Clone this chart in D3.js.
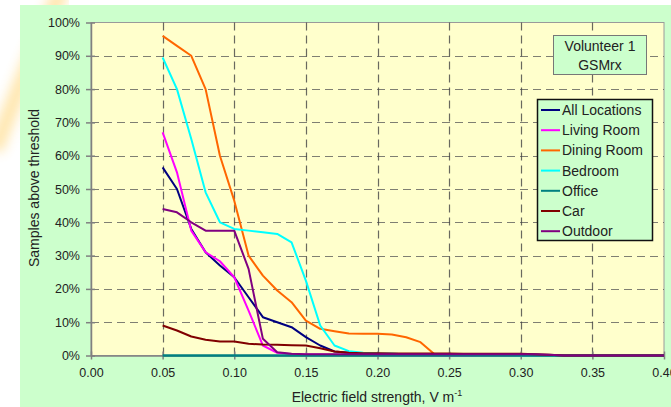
<!DOCTYPE html>
<html>
<head>
<meta charset="utf-8">
<script src="https://cdn.jsdelivr.net/npm/d3@7"></script>
<style>
  body { margin: 0; background: #ffffff; }
  svg { display: block; font-family: "Liberation Sans", Arial, sans-serif; }
</style>
</head>
<body>
<div id="chart"></div>
<script>
var xValues = [0.05, 0.06, 0.07, 0.08, 0.09, 0.10, 0.11, 0.12, 0.13, 0.14,
  0.15, 0.16, 0.17, 0.18, 0.19, 0.20, 0.21, 0.22, 0.23, 0.24,
  0.25, 0.26, 0.27, 0.28, 0.29, 0.30, 0.31, 0.32, 0.33, 0.34,
  0.35, 0.36, 0.37, 0.38, 0.39, 0.40]

var seriesNames = ['All Locations', 'Living Room', 'Dining Room', 'Bedroom', 'Office', 'Car', 'Outdoor']
var seriesColors = ['#000080', '#ff00ff', '#ff6600', '#00ffff', '#008080', '#800000', '#800080']

var allLocations = [56.5, 50, 38, 31, 27, 23.5, 17.5, 11.5, 10, 8.5,
  5.5, 3, 1.2, 0.8, 0.6, 0.5, 0.5, 0.4, 0.4, 0.4,
  0.3, 0.3, 0.3, 0.3, 0.3, 0.3, 0.2, 0.1, 0, 0,
  0, 0, 0, 0, 0, 0]
var livingRoom = [67, 55, 37.5, 31, 28.3, 23.5, 13.5, 3, 0.8, 0.4,
  0.3, 0.3, 0.2, 0.2, 0.2, 0.1, 0.1, 0.1, 0.1, 0.1,
  0, 0, 0, 0, 0, 0, 0, 0, 0, 0,
  0, 0, 0, 0, 0, 0]
var diningRoom = [96, 93, 90, 80, 60, 46.5, 30, 24, 19.5, 16,
  10.5, 8, 7.3, 6.6, 6.5, 6.5, 6.3, 5.5, 4, 0.3,
  0.2, 0.2, 0.1, 0.1, 0.1, 0.1, 0.1, 0, 0, 0,
  0, 0, 0, 0, 0, 0]
var bedroom = [89.5, 80, 65, 49, 40, 38, 37.5, 37, 36.5, 34,
  22.5, 9, 3, 1.3, 0.8, 0.6, 0.5, 0.4, 0.3, 0.3,
  0.2, 0.2, 0.1, 0.1, 0.1, 0, 0, 0, 0, 0,
  0, 0, 0, 0, 0, 0]
var office = [0, 0, 0, 0, 0, 0, 0, 0, 0, 0,
  0, 0, 0, 0, 0, 0, 0, 0, 0, 0,
  0, 0, 0, 0, 0, 0, 0, 0, 0, 0,
  0, 0, 0, 0, 0, 0]
var car = [9, 7.5, 5.7, 4.7, 4.2, 4.2, 3.5, 3.3, 3.2, 3.1,
  3, 2.2, 1.2, 0.8, 0.7, 0.7, 0.6, 0.6, 0.6, 0.6,
  0.6, 0.5, 0.5, 0.5, 0.5, 0.5, 0.4, 0.2, 0, 0,
  0, 0, 0, 0, 0, 0]
var outdoor = [44, 43, 40, 37.5, 37.5, 37.5, 26, 5, 1, 0.5,
  0.4, 0.4, 0.4, 0.4, 0.4, 0.4, 0.4, 0.4, 0.4, 0.4,
  0.4, 0.4, 0.4, 0.4, 0.4, 0.4, 0.4, 0.2, 0, 0,
  0, 0, 0, 0, 0, 0]

var seriesValues = [allLocations, livingRoom, diningRoom, bedroom, office, car, outdoor]

var xTicks = [0, 0.05, 0.10, 0.15, 0.20, 0.25, 0.30, 0.35, 0.40]
var yTicks = [0, 10, 20, 30, 40, 50, 60, 70, 80, 90, 100]
var annotation = ['Volunteer 1', 'GSMrx']

var W = 671, H = 407
var plot = { left: 91, right: 664, top: 22.5, bottom: 355.5 }

var svg = d3.select('#chart').append('svg')
  .attr('width', W)
  .attr('height', H)

var defs = svg.append('defs')
defs.append('filter').attr('id', 'blur')
  .append('feGaussianBlur').attr('stdDeviation', 6)

svg.append('rect').attr('width', W).attr('height', H).attr('fill', '#ffffff')

// faint slide decoration on the left
svg.append('path')
  .attr('d', 'M 62,-10 Q 35,45 -5,150')
  .attr('fill', 'none')
  .attr('stroke', '#ffc94d')
  .attr('stroke-width', 16)
  .attr('opacity', 0.45)
  .attr('filter', 'url(#blur)')

svg.append('rect')
  .attr('x', 20).attr('y', 5)
  .attr('width', W - 20).attr('height', H - 5)
  .attr('fill', '#ccffcc')

var x = d3.scaleLinear().domain([0, 0.4]).range([plot.left, plot.right])
var y = d3.scaleLinear().domain([0, 100]).range([plot.bottom, plot.top])

svg.append('rect')
  .attr('x', plot.left).attr('y', plot.top)
  .attr('width', plot.right - plot.left).attr('height', plot.bottom - plot.top)
  .attr('fill', '#ffffcc')
  .attr('stroke', '#9a9a9a')
  .attr('stroke-width', 1)

var grid = svg.append('g')
grid.selectAll('.hg')
  .data(yTicks.filter(function(d) { return d > 0 && d < 100 }))
  .enter().append('line')
  .attr('x1', plot.left).attr('x2', plot.right)
  .attr('y1', function(d) { return Math.round(y(d)) + 0.5 })
  .attr('y2', function(d) { return Math.round(y(d)) + 0.5 })
  .attr('stroke', '#555').attr('stroke-width', 1.2)
  .attr('stroke-dasharray', '8,5')
  .attr('opacity', 0.75)
grid.selectAll('.vg')
  .data(xTicks.filter(function(d) { return d > 0 && d < 0.4 }))
  .enter().append('line')
  .attr('y1', plot.top).attr('y2', plot.bottom)
  .attr('x1', function(d) { return Math.round(x(d)) + 0.5 })
  .attr('x2', function(d) { return Math.round(x(d)) + 0.5 })
  .attr('stroke', '#444').attr('stroke-width', 1.2)
  .attr('stroke-dasharray', '8,5')
  .attr('opacity', 0.8)

var yAxis = d3.axisLeft(y)
  .tickValues(yTicks)
  .tickSizeInner(5).tickSizeOuter(0)
  .tickPadding(6)
  .tickFormat(function(d) { return d + '%' })

var xAxis = d3.axisBottom(x)
  .tickValues(xTicks)
  .tickSizeInner(4).tickSizeOuter(0)
  .tickPadding(9)
  .tickFormat(d3.format('.2f'))

var vGuide = svg.append('g')
  .attr('transform', 'translate(' + plot.left + ',0)')
  .call(yAxis)
vGuide.selectAll('.tick line').attr('x1', 4)

var hGuide = svg.append('g')
  .attr('transform', 'translate(0,' + plot.bottom + ')')
  .call(xAxis)
hGuide.selectAll('.tick line').attr('y1', -4)

svg.selectAll('.domain').attr('stroke', '#808080').attr('stroke-width', 1.5)
svg.selectAll('.tick line').attr('stroke', '#808080').attr('stroke-width', 1.5)
svg.selectAll('.tick text')
  .attr('fill', '#222')
  .style('font-size', '12.5px')
  .style('font-family', '"Liberation Sans", Arial, sans-serif')

var line = d3.line()
  .x(function(d, i) { return x(xValues[i]) })
  .y(function(d) { return y(d) })

svg.append('g').selectAll('path')
  .data(seriesValues)
  .enter().append('path')
  .attr('d', function(d) { return line(d) })
  .attr('fill', 'none')
  .attr('stroke', function(d, i) { return seriesColors[i] })
  .attr('stroke-width', function(d, i) { return seriesNames[i] == 'Office' ? 2.6 : 2 })
  .attr('stroke-linejoin', 'round')

svg.append('text')
  .attr('transform', 'translate(34,188) rotate(-90)')
  .attr('text-anchor', 'middle')
  .attr('dominant-baseline', 'central')
  .attr('fill', '#222')
  .style('font-size', '14px')
  .text('Samples above threshold')

var xTitle = svg.append('text')
  .attr('x', 377).attr('y', 402)
  .attr('text-anchor', 'middle')
  .attr('fill', '#222')
  .style('font-size', '14px')
xTitle.append('tspan').text('Electric field strength, V m')
xTitle.append('tspan').attr('dy', -6).style('font-size', '9px').text('-1')

var note = svg.append('g')
note.append('rect')
  .attr('x', 553.5).attr('y', 35.5)
  .attr('width', 93).attr('height', 39)
  .attr('fill', '#ccffcc').attr('stroke', '#777').attr('stroke-width', 1)
note.selectAll('text')
  .data(annotation)
  .enter().append('text')
  .attr('x', 600)
  .attr('y', function(d, i) { return 46 + i * 19 })
  .attr('text-anchor', 'middle')
  .attr('dominant-baseline', 'central')
  .attr('fill', '#222')
  .style('font-size', '14px')
  .text(function(d) { return d })

var legend = svg.append('g')
legend.append('rect')
  .attr('x', 537.5).attr('y', 99.5)
  .attr('width', 115).attr('height', 141)
  .attr('fill', '#ccffcc').attr('stroke', '#111').attr('stroke-width', 1.5)

var items = legend.selectAll('.item')
  .data(seriesNames)
  .enter().append('g')
  .attr('transform', function(d, i) { return 'translate(0,' + (110 + i * 20.2) + ')' })
items.append('line')
  .attr('x1', 541).attr('x2', 560)
  .attr('stroke', function(d, i) { return seriesColors[i] })
  .attr('stroke-width', 2)
items.append('text')
  .attr('x', 562)
  .attr('dominant-baseline', 'central')
  .attr('fill', '#222')
  .style('font-size', '14px')
  .text(function(d) { return d })
</script>
</body>
</html>
